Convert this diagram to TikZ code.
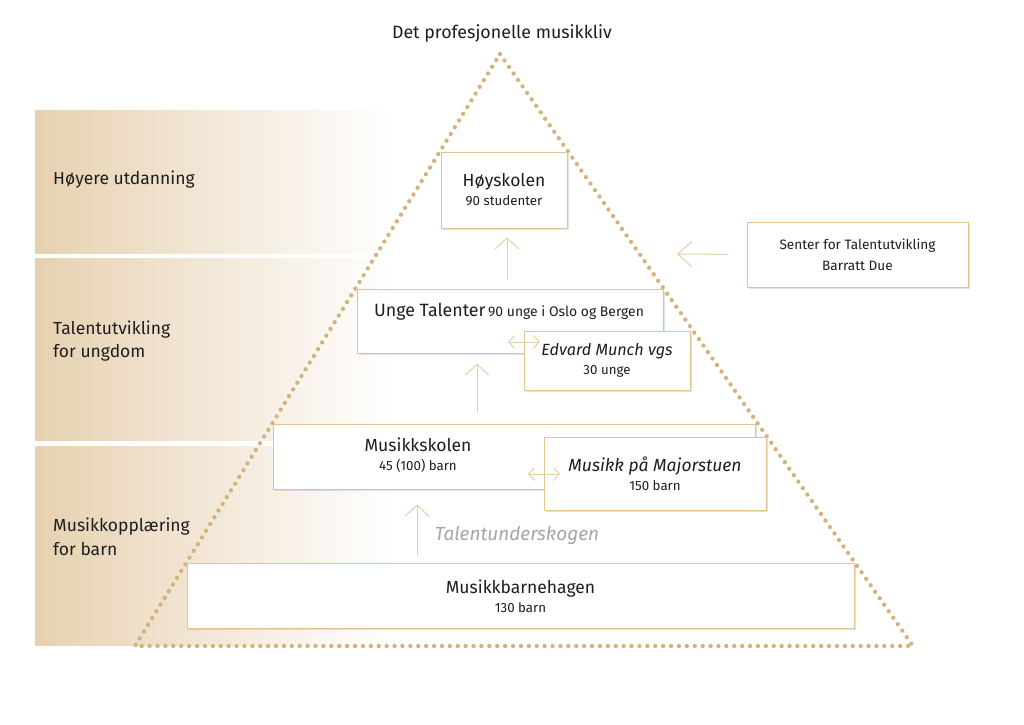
\documentclass[tikz,border=0pt]{standalone}
\usepackage{fontspec}
\setmainfont{Fira Sans}
\usetikzlibrary{arrows.meta,shadows}
\definecolor{boxline}{HTML}{E0C48F}
\definecolor{dotcol}{HTML}{D3B27C}
\definecolor{arrcol}{HTML}{E6CFA6}
\definecolor{bandcol}{HTML}{E6D1B0}
\definecolor{txt}{HTML}{1E1E1E}
\definecolor{graytxt}{HTML}{A6A6A6}
\newcommand{\bigt}{\fontsize{17.5}{19}\selectfont}
\newcommand{\smallt}{\fontsize{13.3}{19}\selectfont}
\begin{document}
\begin{tikzpicture}[x=1pt,y=-1pt,
  every node/.style={text=txt},
  box/.style={draw=boxline, line width=1pt, fill=white, inner sep=0pt, align=center,
    font=\fontsize{13.3}{19}\selectfont,
    drop shadow={shadow xshift=1.5pt, shadow yshift=-1.8pt, opacity=0.25, fill=black!45}},
  lbl/.style={font=\fontsize{17.5}{23.5}\selectfont, align=left, anchor=west, inner sep=0pt},
  arr/.style={draw=arrcol, line width=1pt, -{Straight Barb[length=11pt,width=24pt]}},
  larr/.style={draw=arrcol, line width=1pt, -{Straight Barb[length=14pt,width=25pt]}},
  darr/.style={draw=arrcol, line width=1pt, {Straight Barb[length=6pt,width=13pt]}-{Straight Barb[length=6pt,width=13pt]}},
  band/.style={left color=bandcol, right color=white, draw=none},
  dots/.style={draw=dotcol, line width=4.3pt, line cap=round, dash pattern=on 0pt off 7.9pt}
]
\useasboundingbox (0,0) rectangle (1024,724);
\fill[white] (0,0) rectangle (1024,724);

% bands
\shade[band] (35,110) rectangle (390,253);
\shade[band] (35,258) rectangle (390,440);
\shade[band] (35,446) rectangle (390,645);

\node[lbl] (l1) at (53,180) {Høyere utdanning};
\node[lbl] (l2) at (53,341) {Talentutvikling\\for ungdom};
\node[lbl] (l3) at (53,537) {Musikkopplæring\\for barn};

% title
\node[font=\fontsize{17.8}{21}\selectfont] (title) at (502,33) {Det profesjonelle musikkliv};

% triangle
\coordinate (apex) at (500,54);
\coordinate (bl) at (135,646);
\coordinate (br) at (913,646);
\draw[dots] (apex) -- (br) -- (bl) -- cycle;

% boxes
\node[box, minimum width=126pt, minimum height=76pt] (hs) at (504,190)
  {{\bigt Høyskolen}\\90 studenter};

\node[box, minimum width=306pt, minimum height=64pt] (ut) at (510,321) {};
\node[inner sep=0pt] (uttxt) at (509,312)
  {{\fontsize{17.8}{19}\selectfont Unge Talenter} {\fontsize{13.9}{19}\selectfont 90 unge i Oslo og Bergen}};

\node[box, minimum width=166pt, minimum height=59pt] (em) at (607,360.5)
  {{\fontsize{16.2}{19}\selectfont\itshape Edvard Munch vgs}\\30 unge};

\node[box, minimum width=482pt, minimum height=65pt] (ms) at (514,456.5) {};
\node[inner sep=0pt, align=center, font=\fontsize{13.3}{19}\selectfont] (mstxt) at (418,455)
  {{\bigt Musikkskolen}\\45 (100) barn};

\node[box, minimum width=222pt, minimum height=73pt] (mm) at (655,473.5)
  {{\bigt\itshape Musikk på Majorstuen}\\150 barn};

\node[box, minimum width=667pt, minimum height=65pt] (mb) at (520.5,596)
  {{\bigt Musikkbarnehagen}\\130 barn};

\node[box, minimum width=221pt, minimum height=65pt, font=\fontsize{13.6}{21}\selectfont] (st) at (857.5,254.5)
  {Senter for Talentutvikling\\Barratt Due};

\node[font=\fontsize{19}{23}\selectfont\itshape, text=graytxt, inner sep=0pt] (tu) at (517,535) {Talentunderskogen};

% arrows
\coordinate (a1) at (507,0);
\coordinate (a2) at (477,0);
\coordinate (a3) at (417,0);
\draw[arr, shorten <=9pt, shorten >=9pt] (ut.north -| a1) -- (hs.south -| a1);
\draw[arr, shorten <=11pt, shorten >=10pt] (ms.north -| a2) -- (ut.south -| a2);
\draw[arr, shorten <=8pt, shorten >=15pt] (mb.north -| a3) -- (ms.south -| a3);

\coordinate (d1) at (508,342);
\coordinate (d2) at (540,342);
\draw[darr] (d1) -- (d2);
\coordinate (d3) at (528,474);
\coordinate (d4) at (560,474);
\draw[darr] (d3) -- (d4);

\coordinate (tgt) at (677,254);
\draw[larr, shorten <=19pt] (st.west) -- (tgt);
\end{tikzpicture}
\end{document}
